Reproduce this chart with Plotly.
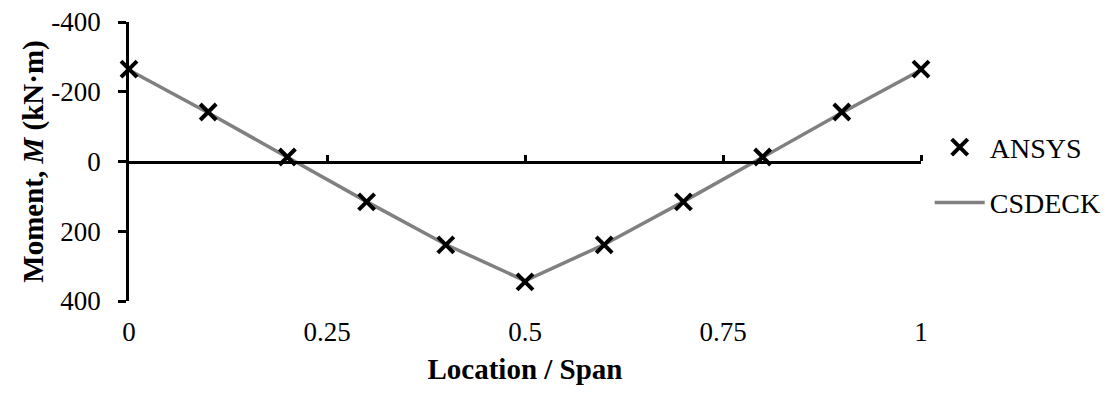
import plotly.graph_objects as go

location = [0, 0.1, 0.2, 0.3, 0.4, 0.5, 0.6, 0.7, 0.8, 0.9, 1.0]
ansys = [-265, -142, -13, 116, 239, 345, 239, 116, -13, -142, -265]
csdeck = [-262, -140, -12, 115, 238, 342, 238, 115, -12, -140, -262]

y_ticks = [-400, -200, 0, 200, 400]
y_ticktext = ["-400", "-200", "0", "200", "400"]
x_ticks = [0, 0.25, 0.5, 0.75, 1]
x_ticktext = ["0", "0.25", "0.5", "0.75", "1"]

FONT = "Liberation Serif, Times New Roman, serif"

fig = go.Figure()
fig.add_trace(go.Scatter(
    x=location, y=ansys, name="ANSYS", mode="markers",
    xaxis="x2", yaxis="y",
    marker=dict(symbol="x-thin", size=16, color="black",
                line=dict(width=4, color="black")),
    cliponaxis=False, legendgroup="a",
))
fig.add_trace(go.Scatter(
    x=location, y=csdeck, name="CSDECK", mode="lines",
    xaxis="x", yaxis="y",
    line=dict(color="#808080", width=3.5),
    cliponaxis=False, legendgroup="b",
))

fig.update_layout(
    width=1105, height=380,
    margin=dict(l=121, r=192, t=14, b=87, autoexpand=False),
    paper_bgcolor="white", plot_bgcolor="white",
    font=dict(family=FONT, size=27, color="black"),
    showlegend=True,
    legend=dict(x=1.011, y=0.64, xanchor="left", yanchor="top",
                itemwidth=50,
                font=dict(family=FONT, size=28, color="black"),
                tracegroupgap=16, bgcolor="rgba(0,0,0,0)"),
    xaxis=dict(range=[0, 1], showline=False, showgrid=False, zeroline=False,
               automargin=False, ticklabeloverflow="allow",
               tickvals=x_ticks, ticktext=x_ticktext, ticks="",
               ticklabelstandoff=12,
               tickfont=dict(family=FONT, size=27),
               title=dict(text="<b>Location / Span</b>", standoff=12,
                          font=dict(family=FONT, size=29))),
    xaxis2=dict(range=[0, 1], overlaying="x", anchor="free", position=0.5,
                side="top", showline=True, linecolor="black", linewidth=2.5,
                automargin=False,
                ticks="outside", ticklen=6, tickwidth=2.5, tickcolor="black",
                tickvals=[0.25, 0.5, 0.75, 1], showticklabels=False,
                showgrid=False, zeroline=False),
    yaxis=dict(range=[400, -400], showline=True, linecolor="black", linewidth=2.5,
               automargin=False, ticklabeloverflow="allow",
               ticks="outside", ticklen=8, tickwidth=2.5, tickcolor="black",
               ticklabelstandoff=12,
               tickvals=y_ticks, ticktext=y_ticktext, showgrid=False, zeroline=False,
               tickfont=dict(family=FONT, size=27),
               title=dict(text="<b>Moment, <i>M</i> (kN·m)</b>", standoff=0,
                          font=dict(family=FONT, size=29))),
)

fig.write_html("out.html")
